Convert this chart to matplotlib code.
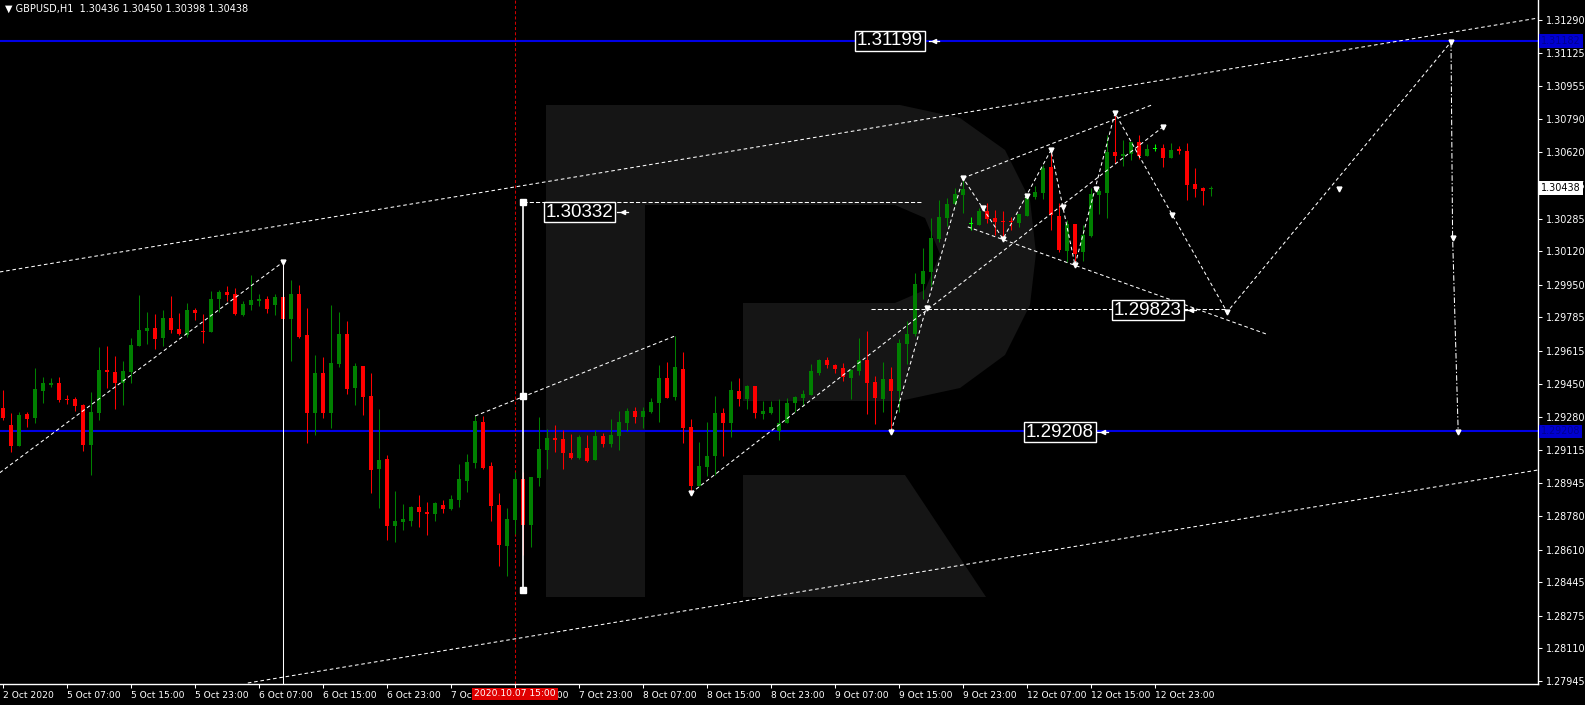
import matplotlib
matplotlib.use("Agg")
import matplotlib.pyplot as plt
from matplotlib.patches import Rectangle, Polygon

plt.rcParams['lines.scale_dashes'] = False
plt.rcParams['font.family'] = ['DejaVu Sans']

W, H = 1585, 705

# GBPUSD H1 candles: bar 0 = 2 Oct 23:00, bar 1 = 5 Oct 00:00, then hourly
opens = [1.29327, 1.29241, 1.29134, 1.29296, 1.29276, 1.29413, 1.29443, 1.29453, 1.29372, 1.29372,
         1.29342, 1.29139, 1.29301, 1.29519, 1.29509, 1.29453, 1.29509, 1.29640, 1.29716, 1.29731,
         1.29681, 1.29782, 1.29726, 1.29696, 1.29822, 1.29716, 1.29711, 1.29878, 1.29914, 1.29903,
         1.29797, 1.29848, 1.29868, 1.29878, 1.29848, 1.29888, 1.29777, 1.29903, 1.29696, 1.29301,
         1.29504, 1.29301, 1.29549, 1.29701, 1.29428, 1.29539, 1.29387, 1.29018, 1.29068, 1.28729,
         1.28750, 1.28755, 1.28826, 1.28800, 1.28790, 1.28836, 1.28815, 1.28861, 1.28957, 1.29048,
         1.29256, 1.29033, 1.28836, 1.28628, 1.28760, 1.28967, 1.28735, 1.28972, 1.29114, 1.29175,
         1.29170, 1.29099, 1.29073, 1.29124, 1.29063, 1.29185, 1.29144, 1.29185, 1.29251, 1.29311,
         1.29281, 1.29306, 1.29352, 1.29478, 1.29382, 1.29524, 1.29230, 1.28932, 1.29028, 1.29084,
         1.29301, 1.29251, 1.29413, 1.29372, 1.29438, 1.29296, 1.29301, 1.29210, 1.29251, 1.29352,
         1.29377, 1.29392, 1.29504, 1.29569, 1.29544, 1.29529, 1.29478, 1.29514, 1.29569, 1.29458,
         1.29372, 1.29473, 1.29413, 1.29650, 1.29701, 1.29954, 1.30015, 1.30182, 1.30288, 1.30359,
         1.30404, 1.30258, 1.30253, 1.30323, 1.30288, 1.30273, 1.30273, 1.30263, 1.30298, 1.30394,
         1.30415, 1.30546, 1.30298, 1.30121, 1.30258, 1.30116, 1.30197, 1.30404, 1.30415, 1.30622,
         1.30602, 1.30612, 1.30673, 1.30602, 1.30637, 1.30642, 1.30592, 1.30637, 1.30627, 1.30460,
         1.30440, 1.30436]
highs = [1.29418, 1.29301, 1.29306, 1.29306, 1.29529, 1.29483, 1.29478, 1.29483, 1.29392, 1.29382,
         1.29347, 1.29407, 1.29635, 1.29640, 1.29590, 1.29564, 1.29681, 1.29898, 1.29812, 1.29802,
         1.29822, 1.29893, 1.29807, 1.29858, 1.29832, 1.29802, 1.29919, 1.29924, 1.29944, 1.29934,
         1.29868, 1.30000, 1.29903, 1.29893, 1.29903, 1.30065, 1.29974, 1.29949, 1.29832, 1.29595,
         1.29585, 1.29848, 1.29812, 1.29767, 1.29554, 1.29539, 1.29504, 1.29321, 1.29089, 1.28907,
         1.28841, 1.28831, 1.28886, 1.28851, 1.28851, 1.28861, 1.28886, 1.29043, 1.29094, 1.29286,
         1.29286, 1.29053, 1.28896, 1.28821, 1.29003, 1.29003, 1.28977, 1.29281, 1.29220, 1.29241,
         1.29215, 1.29195, 1.29190, 1.29190, 1.29215, 1.29200, 1.29271, 1.29311, 1.29327, 1.29332,
         1.29332, 1.29377, 1.29544, 1.29559, 1.29691, 1.29610, 1.29271, 1.29154, 1.29256, 1.29387,
         1.29327, 1.29463, 1.29478, 1.29443, 1.29438, 1.29362, 1.29362, 1.29372, 1.29377, 1.29387,
         1.29418, 1.29549, 1.29574, 1.29585, 1.29549, 1.29554, 1.29524, 1.29681, 1.29716, 1.29488,
         1.29559, 1.29534, 1.29676, 1.29767, 1.30010, 1.30136, 1.30288, 1.30379, 1.30389, 1.30440,
         1.30490, 1.30293, 1.30339, 1.30364, 1.30328, 1.30323, 1.30293, 1.30308, 1.30409, 1.30450,
         1.30556, 1.30632, 1.30364, 1.30278, 1.30258, 1.30253, 1.30440, 1.30440, 1.30708, 1.30819,
         1.30683, 1.30673, 1.30708, 1.30663, 1.30663, 1.30663, 1.30668, 1.30652, 1.30668, 1.30541,
         1.30445, 1.30450]
lows = [1.29266, 1.29104, 1.29134, 1.29230, 1.29251, 1.29352, 1.29433, 1.29357, 1.29347, 1.29311,
        1.29109, 1.28988, 1.29266, 1.29428, 1.29321, 1.29342, 1.29453, 1.29640, 1.29650, 1.29625,
        1.29640, 1.29706, 1.29696, 1.29686, 1.29772, 1.29655, 1.29711, 1.29812, 1.29868, 1.29797,
        1.29792, 1.29822, 1.29843, 1.29807, 1.29797, 1.29731, 1.29564, 1.29681, 1.29149, 1.29190,
        1.29276, 1.29225, 1.29534, 1.29397, 1.29342, 1.29291, 1.28896, 1.28821, 1.28659, 1.28649,
        1.28709, 1.28729, 1.28724, 1.28684, 1.28755, 1.28795, 1.28810, 1.28826, 1.28902, 1.29023,
        1.29018, 1.28755, 1.28527, 1.28476, 1.28689, 1.28583, 1.28623, 1.28932, 1.29018, 1.29104,
        1.29018, 1.29068, 1.29068, 1.29053, 1.29063, 1.29129, 1.29129, 1.29114, 1.29210, 1.29251,
        1.29225, 1.29301, 1.29256, 1.29377, 1.29367, 1.29149, 1.28896, 1.28932, 1.28983, 1.28988,
        1.29084, 1.29180, 1.29337, 1.29321, 1.29276, 1.29271, 1.29296, 1.29165, 1.29251, 1.29306,
        1.29337, 1.29392, 1.29493, 1.29529, 1.29504, 1.29463, 1.29372, 1.29493, 1.29296, 1.29246,
        1.29306, 1.29205, 1.29306, 1.29549, 1.29691, 1.29878, 1.29944, 1.30167, 1.30248, 1.30354,
        1.30313, 1.30228, 1.30253, 1.30263, 1.30202, 1.30182, 1.30228, 1.30242, 1.30298, 1.30384,
        1.30384, 1.30228, 1.30116, 1.30065, 1.30050, 1.30070, 1.30192, 1.30308, 1.30288, 1.30566,
        1.30551, 1.30581, 1.30586, 1.30602, 1.30627, 1.30546, 1.30592, 1.30612, 1.30379, 1.30394,
        1.30354, 1.30398]
closes = [1.29276, 1.29134, 1.29291, 1.29271, 1.29423, 1.29453, 1.29453, 1.29367, 1.29367, 1.29337,
          1.29139, 1.29306, 1.29519, 1.29509, 1.29453, 1.29514, 1.29645, 1.29721, 1.29731, 1.29676,
          1.29782, 1.29721, 1.29701, 1.29822, 1.29807, 1.29711, 1.29878, 1.29914, 1.29898, 1.29802,
          1.29853, 1.29873, 1.29878, 1.29827, 1.29888, 1.29777, 1.29903, 1.29686, 1.29301, 1.29504,
          1.29301, 1.29554, 1.29701, 1.29423, 1.29539, 1.29382, 1.29013, 1.29063, 1.28729, 1.28755,
          1.28765, 1.28826, 1.28800, 1.28790, 1.28846, 1.28815, 1.28866, 1.28967, 1.29053, 1.29261,
          1.29023, 1.28831, 1.28633, 1.28765, 1.28967, 1.28735, 1.28977, 1.29119, 1.29175, 1.29165,
          1.29099, 1.29073, 1.29180, 1.29058, 1.29185, 1.29144, 1.29190, 1.29256, 1.29311, 1.29281,
          1.29311, 1.29357, 1.29478, 1.29377, 1.29534, 1.29225, 1.28932, 1.29033, 1.29084, 1.29301,
          1.29251, 1.29418, 1.29372, 1.29438, 1.29301, 1.29311, 1.29332, 1.29251, 1.29352, 1.29382,
          1.29397, 1.29514, 1.29569, 1.29544, 1.29524, 1.29483, 1.29519, 1.29569, 1.29453, 1.29377,
          1.29473, 1.29413, 1.29655, 1.29701, 1.29954, 1.30020, 1.30187, 1.30293, 1.30359, 1.30409,
          1.30435, 1.30258, 1.30323, 1.30283, 1.30268, 1.30268, 1.30268, 1.30308, 1.30399, 1.30420,
          1.30541, 1.30303, 1.30126, 1.30258, 1.30106, 1.30202, 1.30409, 1.30425, 1.30622, 1.30602,
          1.30612, 1.30673, 1.30602, 1.30637, 1.30637, 1.30592, 1.30632, 1.30627, 1.30455, 1.30435,
          1.30425, 1.30438]

time_labels = ["2 Oct 2020", "5 Oct 07:00", "5 Oct 15:00", "5 Oct 23:00", "6 Oct 07:00",
               "6 Oct 15:00", "6 Oct 23:00", "7 Oct 07:00", "7 Oct 15:00", "7 Oct 23:00",
               "8 Oct 07:00", "8 Oct 15:00", "8 Oct 23:00", "9 Oct 07:00", "9 Oct 15:00",
               "9 Oct 23:00", "12 Oct 07:00", "12 Oct 15:00", "12 Oct 23:00"]
price_ticks = [1.31290, 1.31125, 1.30955, 1.30790, 1.30620, 1.30455, 1.30285, 1.30120, 1.29950,
               1.29785, 1.29615, 1.29450, 1.29280, 1.29115, 1.28945, 1.28780, 1.28610, 1.28445,
               1.28275, 1.28110, 1.27945]

level_hi = 1.31182
level_lo = 1.29208
last_price = 1.30438

# analysis objects (bar index, price)
channel_up = [(-0.4, 1.30015), (191.9, 1.31300)]
channel_dn = [(30.6, 1.27935), (191.9, 1.29013)]
wave_lines = [
    [(-0.4, 1.28999), (35, 1.30065)],
    [(59, 1.29286), (84, 1.29691)],
    [(86, 1.28896), (145, 1.30749)],
    [(111, 1.29205), (120, 1.30490), (125, 1.30182), (131, 1.30632), (134, 1.30050),
     (139, 1.30819), (153, 1.29812), (181, 1.31179)],
    [(120.6, 1.30243), (157.9, 1.29701)],
    [(120, 1.30490), (143.6, 1.30860)],
]
forecast_drop = [(181, 1.31179), (181.2, 1.30189), (181.9, 1.29205)]
range_bar = 65
range_top, range_mid, range_bot = 1.30367, 1.29387, 1.28405
hline_a = (1.30367, 65, 114.9)
hline_b = (1.29827, 108.5, 153)
markers = [(35, 1.30065), (86, 1.28896), (111, 1.29205), (115.5, 1.29832), (120, 1.30490),
           (122.5, 1.30339), (125, 1.30182), (128, 1.30399), (131, 1.30632), (132.5, 1.30344),
           (134, 1.30050), (136.6, 1.30435), (139, 1.30819), (145, 1.30749), (146.1, 1.30303),
           (153, 1.29812), (167, 1.30434), (181, 1.31179), (181.2, 1.30189), (181.9, 1.29205)]
labels = [("1.31199", 106.4, 1.31184), ("1.30332", 67.5, 1.30318),
          ("1.29823", 138.5, 1.29822), ("1.29208", 127.5, 1.29205)]

K = 5.0605e-5           # price per pixel
YTOP = 1.313912
fig = plt.figure(figsize=(W / 100, H / 100), dpi=100, facecolor='black')
ax = fig.add_axes([0, 1 - 684 / H, 1538 / W, 684 / H])
ax.set_facecolor('none')
ax.set_xlim(-0.375, 191.875)
ax.set_ylim(YTOP - 684 * K, YTOP)


def px(x, y):
    return (x / W, 1 - y / H)


# background logo
logo_c = '#151515'
stem = Polygon([px(546, 105), px(645, 105), px(645, 597), px(546, 597)], closed=True)
bowl = Polygon([px(645, 105), px(900, 105), px(960, 118), px(1005, 150), px(1030, 200),
                px(1036, 253), px(1030, 305), px(1005, 355), px(960, 388), px(900, 401),
                px(743, 401), px(743, 303), px(895, 303), px(925, 290), px(940, 254),
                px(925, 218), px(895, 205), px(645, 205)], closed=True)
leg = Polygon([px(743, 475), px(905, 475), px(986, 597), px(743, 597)], closed=True)
for p in (stem, bowl, leg):
    p.set_transform(fig.transFigure)
    p.set_facecolor(logo_c)
    p.set_edgecolor('none')
    p.set_zorder(-5)
    fig.patches.append(p)

# candles
for i in range(len(opens)):
    o, h, l, c = opens[i], highs[i], lows[i], closes[i]
    if abs(c - o) < 1e-6:
        col = '#00ff00'
    elif c > o:
        col = '#008000'
    else:
        col = '#ff0000'
    ax.vlines(i, l, h, color=col, lw=0.75, zorder=3)
    bh = max(abs(c - o), K)
    ax.add_patch(Rectangle((i - 0.31, min(o, c)), 0.62, bh, facecolor=col,
                           edgecolor='none', antialiased=False, zorder=3))

# horizontal levels
for lv in (level_hi, level_lo):
    ax.axhline(lv, color='#0000e6', lw=1.5, zorder=2)

# red period line
ax.axvline(64, color='#d00000', lw=0.75, dashes=(2.2, 1.6), zorder=2)

dot = (2.6, 2.0)
for seg in (channel_up, channel_dn):
    xs, ys = zip(*seg)
    ax.plot(xs, ys, color='white', lw=0.75, dashes=dot, zorder=4)
for seg in wave_lines:
    xs, ys = zip(*seg)
    ax.plot(xs, ys, color='white', lw=0.75, dashes=dot, zorder=4)
xs, ys = zip(*forecast_drop)
ax.plot(xs, ys, color='white', lw=0.75, dashes=(4, 1.5, 1, 1.5), zorder=4)

for lv, x0, x1 in (hline_a, hline_b):
    ax.plot([x0, x1], [lv, lv], color='white', lw=0.75, dashes=(3, 1.5), zorder=4)

# range bar
ax.vlines(range_bar, range_bot, range_top, color='white', lw=1.2, zorder=5)
ax.plot([range_bar] * 3, [range_top, range_mid, range_bot], 's', color='white', ms=4, zorder=5)
ax.vlines(35, YTOP - 684 * K, 1.30065, color='white', lw=0.75, zorder=5)

mx, my = zip(*markers)
ax.plot(mx, my, 'v', color='white', ms=3.5, zorder=6)

for txt, xi, yv in labels:
    ax.text(xi + 0.35, yv, txt, fontsize=13.5, family='Liberation Sans', color='white',
            va='center', ha='left', zorder=7,
            bbox=dict(boxstyle='square,pad=0.1', facecolor='black', edgecolor='white', lw=1.0))
    ax.plot([xi + 9.3, xi + 10.6], [yv, yv], color='white', lw=0.9, zorder=7)
    ax.plot([xi + 10.0], [yv], '<', color='white', ms=3, zorder=7)

# axes look
for s in ('left', 'top'):
    ax.spines[s].set_visible(False)
for s in ('right', 'bottom'):
    ax.spines[s].set_color('white')
    ax.spines[s].set_linewidth(1.0)

ax.yaxis.tick_right()
ax.set_yticks(price_ticks)
ax.set_yticklabels([f"{v:.5f}" for v in price_ticks])
ax.tick_params(axis='y', colors='white', labelcolor='white', labelsize=6.9, length=3, width=0.75, pad=3)
ax.set_xticks(list(range(0, 8 * len(time_labels), 8)))
ax.set_xticklabels(time_labels, ha='left')
ax.tick_params(axis='x', colors='white', labelcolor='white', labelsize=6.6, length=3, width=0.75, pad=2)

ax.text(0.003, 0.995, "\u25bc GBPUSD,H1  1.30436 1.30450 1.30398 1.30438", transform=ax.transAxes,
        color='white', fontsize=7.0, va='top', ha='left')

tr = ax.get_yaxis_transform()
ax.text(1.002, level_hi, "1.31182", transform=tr, color='#000090', fontsize=6.9, va='center',
        ha='left', bbox=dict(boxstyle='square,pad=0.2', facecolor='#0000d0', edgecolor='none'))
ax.text(1.002, level_lo, "1.29208", transform=tr, color='#000090', fontsize=6.9, va='center',
        ha='left', bbox=dict(boxstyle='square,pad=0.2', facecolor='#0000d0', edgecolor='none'))
ax.text(1.002, last_price, "1.30438", transform=tr, color='black', fontsize=6.9, va='center',
        ha='left', bbox=dict(boxstyle='square,pad=0.2', facecolor='white', edgecolor='none'))

ax.text(64, -0.008, "2020.10.07 15:00", transform=ax.get_xaxis_transform(), color='white',
        fontsize=6.6, va='top', ha='center',
        bbox=dict(boxstyle='square,pad=0.2', facecolor='#e00000', edgecolor='none'), zorder=8)

fig.savefig('out.png', dpi=100, facecolor='black')
